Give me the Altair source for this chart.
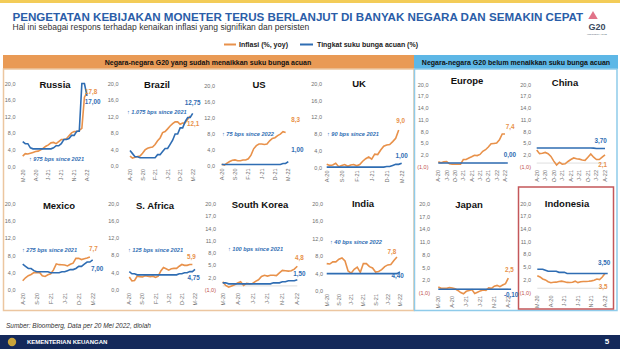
import altair as alt
import pandas as pd

# ---------------- data (months counted from Jan-2020 = 0) ----------------
countries = ["Russia", "Brazil", "US", "UK", "Europe", "China",
             "Mexico", "S. Africa", "South Korea", "India", "Japan", "Indonesia"]

russia_start_infl, russia_start_rate = 2, 2
russia_infl = [2.5, 3.1, 3.0, 3.2, 3.4, 3.6, 3.7, 4.0, 4.4, 4.9, 5.2, 5.7, 5.8, 5.5, 6.0, 6.5,
               6.5, 6.7, 7.4, 8.1, 8.4, 8.4, 8.7, 9.2, 16.7, 17.8]
russia_rate = [6.0, 5.5, 5.5, 4.5, 4.25, 4.25, 4.25, 4.25, 4.25, 4.25, 4.25, 4.25, 4.5, 5.0, 5.0,
               5.5, 6.5, 6.5, 6.75, 7.5, 7.5, 8.5, 8.5, 20.0, 20.0, 17.0]

brazil_start_infl, brazil_start_rate = 3, 3
brazil_infl = [2.4, 1.9, 2.1, 2.3, 2.4, 3.1, 3.9, 4.3, 4.5, 4.6, 5.2, 6.1, 6.8, 8.1, 8.35, 9.0,
               9.7, 10.25, 10.7, 10.7, 10.1, 10.4, 10.5, 11.3, 12.1]
brazil_rate = [3.75, 3.0, 2.25, 2.25, 2.0, 2.0, 2.0, 2.0, 2.0, 2.0, 2.0, 2.75, 2.75, 3.5, 4.25,
               4.25, 5.25, 6.25, 7.75, 7.75, 9.25, 9.25, 10.75, 11.75, 11.75, 12.75]

us_start_infl, us_start_rate = 3, 3
us_infl = [0.3, 0.1, 0.6, 1.0, 1.3, 1.4, 1.2, 1.2, 1.4, 1.4, 1.7, 2.6, 4.2, 5.0, 5.4, 5.4, 5.3,
           5.4, 6.2, 6.8, 7.0, 7.5, 7.9, 8.5, 8.3]
us_rate = [0.25] * 23 + [0.5, 0.5, 1.0]

uk_start_infl, uk_start_rate = 3, 3
uk_infl = [0.8, 0.5, 0.6, 1.0, 0.2, 0.5, 0.7, 0.3, 0.6, 0.7, 0.4, 0.7, 1.5, 2.1, 2.5, 2.0, 3.2,
           3.1, 4.2, 5.1, 5.4, 5.5, 6.2, 7.0, 9.0]
uk_rate = [0.1] * 20 + [0.25, 0.25, 0.5, 0.75, 0.75, 1.0]

europe_start_infl, europe_start_rate = 3, 3
europe_infl = [0.3, 0.1, 0.3, 0.4, -0.2, -0.3, -0.3, -0.3, -0.3, 0.9, 0.9, 1.3, 1.6, 2.0, 1.9,
               2.2, 3.0, 3.4, 4.1, 4.9, 5.0, 5.1, 5.9, 7.4, 7.4]
europe_rate = [0.0] * 26

china_start_infl, china_start_rate = 3, 3
china_infl = [3.3, 2.4, 2.5, 2.7, 2.4, 1.7, 0.5, -0.5, 0.2, -0.3, -0.2, 0.4, 0.9, 1.3, 1.1, 1.0,
              0.8, 0.7, 1.5, 2.3, 1.5, 0.9, 0.9, 1.5, 2.1]
china_rate = [3.85] * 20 + [3.8, 3.7, 3.7, 3.7, 3.7]

mexico_start_infl, mexico_start_rate = 3, 3
mexico_infl = [2.15, 2.84, 3.33, 3.62, 4.05, 4.01, 4.09, 3.33, 3.15, 3.54, 3.76, 4.67, 6.08, 5.89,
               5.88, 5.81, 5.59, 6.0, 6.24, 7.37, 7.36, 7.07, 7.28, 7.45, 7.68]
mexico_rate = [6.0, 5.5, 5.0, 5.0, 4.5, 4.25, 4.25, 4.25, 4.25, 4.25, 4.0, 4.0, 4.0, 4.0, 4.25,
               4.25, 4.5, 4.75, 4.75, 5.0, 5.5, 5.5, 6.0, 6.5, 6.5, 7.0]

safrica_start_infl, safrica_start_rate = 3, 3
safrica_infl = [3.0, 2.1, 2.2, 3.2, 3.1, 3.0, 3.3, 3.2, 3.1, 3.2, 2.9, 3.2, 4.4, 5.2, 4.9, 4.6,
                4.9, 5.0, 5.0, 5.5, 5.9, 5.7, 5.7, 5.9, 5.9]
safrica_rate = [4.25, 3.75, 3.75] + [3.5] * 16 + [3.75, 3.75, 4.0, 4.0, 4.25, 4.25, 4.75]

korea_start_infl, korea_start_rate = 2, 2
korea_infl = [1.0, 0.1, -0.3, 0.0, 0.3, 0.7, 1.0, 0.1, 0.6, 0.5, 0.6, 1.1, 1.5, 2.3, 2.6, 2.4,
              2.6, 2.6, 2.5, 3.2, 3.8, 3.7, 3.6, 3.7, 4.1, 4.8]
korea_rate = [0.75, 0.75] + [0.5] * 15 + [0.75, 0.75, 0.75, 1.0, 1.0, 1.25, 1.25, 1.25, 1.5]

india_start_infl, india_start_rate = 4, 4
india_infl = [6.3, 6.2, 6.7, 6.7, 7.3, 7.6, 6.9, 4.6, 4.1, 5.0, 5.5, 4.3, 6.3, 6.3, 5.6, 5.3,
              4.35, 4.5, 4.9, 5.6, 6.0, 6.1, 7.0, 7.8]
india_rate = [4.0] * 24 + [4.4]

japan_start_infl, japan_start_rate = 2, 2
japan_infl = [0.4, 0.1, 0.1, 0.1, 0.3, 0.2, 0.0, -0.4, -0.9, -1.2, -0.6, -0.4, -0.2, -1.1, -0.8,
              -0.5, -0.3, -0.4, 0.2, 0.1, 0.6, 0.8, 0.5, 0.9, 1.2, 2.5]
japan_rate = [-0.1] * 27

indonesia_start_infl, indonesia_start_rate = 2, 2
indonesia_infl = [2.96, 2.67, 2.19, 1.96, 1.54, 1.32, 1.42, 1.44, 1.59, 1.68, 1.55, 1.38, 1.37,
                  1.42, 1.68, 1.33, 1.52, 1.59, 1.60, 1.66, 1.75, 1.87, 2.18, 2.06, 2.64, 3.47]
indonesia_rate = [4.5, 4.5, 4.5, 4.25, 4.0, 4.0, 4.0, 4.0, 3.75, 3.75, 3.75] + [3.5] * 16

# axis tick labels
ticks_a = [0, 4, 8, 12, 16, 20]
ticks_a_text = ["0,0", "4,0", "8,0", "12,0", "16,0", "20,0"]
ticks_b = [-1, 2, 5, 8, 11, 14, 17, 20]
ticks_b_text = ["(1,0)", "2,0", "5,0", "8,0", "11,0", "14,0", "17,0", "20,0"]

xl5a_m = [2, 7, 12, 17, 22, 27]
xl5a_t = ["M-20", "A-20", "J-21", "J-21", "N-21", "A-22"]
xl5b_m = [3, 8, 13, 18, 23, 28]
xl5b_t = ["A-20", "S-20", "F-21", "J-21", "D-21", "M-22"]
xl4_m = [4, 8, 12, 16, 20, 24, 28]
xl4_t = ["M-20", "S-20", "J-21", "M-21", "S-21", "J-22", "M-22"]
xl3_m = [3, 6, 9, 12, 15, 18, 21, 24, 27]
xl3_t = ["A-20", "J-20", "O-20", "J-21", "A-21", "J-21", "O-21", "J-22", "A-22"]

annotations = {
    "Russia": "↑ 975 bps since 2021", "Brazil": "↑ 1.075 bps since 2021",
    "US": "↑ 75 bps since 2022", "UK": "↑ 90 bps since 2021",
    "Mexico": "↑ 275 bps since 2021", "S. Africa": "↑ 125 bps since 2021",
    "South Korea": "↑ 100 bps since 2021", "India": "↑ 40 bps since 2022",
}

SERIES = {
    "Russia": (russia_start_infl, russia_infl, russia_start_rate, russia_rate, "a", (xl5a_m, xl5a_t)),
    "Brazil": (brazil_start_infl, brazil_infl, brazil_start_rate, brazil_rate, "a", (xl5b_m, xl5b_t)),
    "US": (us_start_infl, us_infl, us_start_rate, us_rate, "a", (xl5b_m, xl5b_t)),
    "UK": (uk_start_infl, uk_infl, uk_start_rate, uk_rate, "a", (xl5b_m, xl5b_t)),
    "Europe": (europe_start_infl, europe_infl, europe_start_rate, europe_rate, "b", (xl3_m, xl3_t)),
    "China": (china_start_infl, china_infl, china_start_rate, china_rate, "b", (xl3_m, xl3_t)),
    "Mexico": (mexico_start_infl, mexico_infl, mexico_start_rate, mexico_rate, "a", (xl5b_m, xl5b_t)),
    "S. Africa": (safrica_start_infl, safrica_infl, safrica_start_rate, safrica_rate, "a", (xl5b_m, xl5b_t)),
    "South Korea": (korea_start_infl, korea_infl, korea_start_rate, korea_rate, "b", (xl5a_m, xl5a_t)),
    "India": (india_start_infl, india_infl, india_start_rate, india_rate, "a", (xl4_m, xl4_t)),
    "Japan": (japan_start_infl, japan_infl, japan_start_rate, japan_rate, "b", (xl5a_m, xl5a_t)),
    "Indonesia": (indonesia_start_infl, indonesia_infl, indonesia_start_rate, indonesia_rate, "b", (xl5a_m, xl5a_t)),
}

# ---------------- layout / style ----------------
ORANGE = "#E8914A"
BLUE = "#2F6DB3"
GRAY = "#6E6E6E"
RED = "#C0504D"
FONT = "Liberation Sans"

GEO = {
    "Russia": dict(x0=22.7, x1=87.0, y0=166.5, y1=83.5, yl=15.5, tx=55, ty=85, ax=29, ay=159),
    "Brazil": dict(x0=130.0, x1=192.7, y0=166.0, y1=83.5, yl=118.5, tx=157, ty=85, ax=127, ay=112),
    "US": dict(x0=221.7, x1=288.3, y0=165.5, y1=86.0, yl=215, tx=259, ty=85, ax=222, ay=134),
    "UK": dict(x0=326.7, x1=401.7, y0=167.5, y1=84.0, yl=322, tx=359, ty=84, ax=327, ay=134),
    "Europe": dict(x0=438.3, x1=505.0, y0=167.0, y1=84.5, yl=428.5, tx=467, ty=81),
    "China": dict(x0=536.7, x1=605.0, y0=167.0, y1=84.5, yl=531, tx=565, ty=83),
    "Mexico": dict(x0=22.7, x1=92.7, y0=290.0, y1=204.0, yl=15.5, tx=59, ty=206, ax=22, ay=250),
    "S. Africa": dict(x0=129.3, x1=195.0, y0=290.0, y1=203.5, yl=119, tx=155, ty=206, ax=128, ay=250),
    "South Korea": dict(x0=222.7, x1=297.3, y0=290.0, y1=204.0, yl=216, tx=260, ty=205, ax=228, ay=249),
    "India": dict(x0=326.7, x1=400.0, y0=291.0, y1=204.0, yl=323, tx=363, ty=204, ax=330, ay=242),
    "Japan": dict(x0=438.3, x1=508.3, y0=293.0, y1=204.0, yl=430, tx=469, ty=205),
    "Indonesia": dict(x0=537.3, x1=605.0, y0=292.5, y1=203.5, yl=531, tx=567, ty=204),
}
# (dx, dy) offsets of end-value labels: inflation, rate
ENDOFF = {
    "Russia": ((4, -1), (5.5, 6)), "Brazil": ((3, 7.5), (0, -10)),
    "US": ((10, -12.5), (9, -12)), "UK": ((2, -9), (0, -7.5)),
    "Europe": ((5, -7), (2, -8)), "China": ((-2.5, 10), (-4.5, -8)),
    "Mexico": ((3.5, -7.5), (4.5, 9.5)), "S. Africa": ((-1, -7), (-1.5, 9)),
    "South Korea": ((2, -8), (2, -6)), "India": ((-5, -5), (-2.5, 4)),
    "Japan": ((1, -8.5), (0, 5.5)), "Indonesia": ((-2, 13), (-3.5, -10)),
}


def fmt(v, d):
    return f"{v:.{d}f}".replace(".", ",")


def panel(name):
    g = GEO[name]
    s_i, infl, s_r, rate, grp, (xm, xt) = SERIES[name]
    tv, tt = (ticks_a, ticks_a_text) if grp == "a" else (ticks_b, ticks_b_text)
    xs = alt.Scale(domain=[xm[0], xm[-1]], range=[g["x0"], g["x1"]], nice=False, zero=False)
    ys = alt.Scale(domain=[tv[0], tv[-1]], range=[g["y0"], g["y1"]], nice=False, zero=False)

    def X():
        return alt.X("m:Q", scale=xs, axis=None)

    def Y():
        return alt.Y("v:Q", scale=ys, axis=None)

    df_i = pd.DataFrame({"m": list(range(s_i, s_i + len(infl))), "v": infl})
    df_r = pd.DataFrame({"m": list(range(s_r, s_r + len(rate))), "v": rate})
    layers = []
    if grp == "b":
        layers.append(alt.Chart(pd.DataFrame({"v": [0]})).mark_rule(color="#D6D6D6", strokeWidth=0.8)
                      .encode(y=Y(), x=alt.value(g["x0"]), x2=alt.value(g["x1"])))
    layers.append(alt.Chart(df_i).mark_line(color=ORANGE, strokeWidth=1.6).encode(x=X(), y=Y()))
    layers.append(alt.Chart(df_r).mark_line(color=BLUE, strokeWidth=1.6).encode(x=X(), y=Y()))
    # y tick labels
    layers.append(alt.Chart(pd.DataFrame({"v": tv, "t": tt})).mark_text(
        align="right", baseline="middle", fontSize=5.5, font=FONT).encode(
        y=Y(), x=alt.value(g["yl"]), text="t:N",
        color=alt.condition(alt.datum.v < 0, alt.value(RED), alt.value(GRAY))))
    # x tick labels
    layers.append(alt.Chart(pd.DataFrame({"m": xm, "t": xt})).mark_text(
        align="right", baseline="middle", angle=270, fontSize=5.5, font=FONT, color=GRAY).encode(
        x=X(), y=alt.value(g["y0"] + 3), text="t:N"))
    # title
    layers.append(alt.Chart(pd.DataFrame({"t": [name]})).mark_text(
        fontSize=9.5, fontWeight="bold", font=FONT, color="#111111", baseline="middle").encode(
        x=alt.value(g["tx"]), y=alt.value(g["ty"]), text="t:N"))
    # end labels
    (dxi, dyi), (dxr, dyr) = ENDOFF[name]
    li = pd.DataFrame({"m": [df_i["m"].iloc[-1]], "v": [infl[-1]], "t": [fmt(infl[-1], 1)]})
    lr = pd.DataFrame({"m": [df_r["m"].iloc[-1]], "v": [rate[-1]], "t": [fmt(rate[-1], 2)]})
    layers.append(alt.Chart(li).mark_text(fontSize=6.3, fontWeight="bold", font=FONT, color=ORANGE,
                                          dx=dxi, dy=dyi).encode(x=X(), y=Y(), text="t:N"))
    layers.append(alt.Chart(lr).mark_text(fontSize=6.3, fontWeight="bold", font=FONT, color=BLUE,
                                          dx=dxr, dy=dyr).encode(x=X(), y=Y(), text="t:N"))
    if name in annotations:
        layers.append(alt.Chart(pd.DataFrame({"t": [annotations[name]]})).mark_text(
            align="left", baseline="middle", fontSize=5.6, fontWeight="bold", fontStyle="italic",
            font=FONT, color=BLUE).encode(x=alt.value(g["ax"]), y=alt.value(g["ay"]), text="t:N"))
    return alt.layer(*layers)


one = pd.DataFrame({"a": [0]})


def rect(x, x2, y, y2, **kw):
    return alt.Chart(one).mark_rect(**kw).encode(
        x=alt.value(x), x2=alt.value(x2), y=alt.value(y), y2=alt.value(y2))


def text(s, x, y, **kw):
    kw.setdefault("font", FONT)
    return alt.Chart(one).mark_text(text=s, **kw).encode(x=alt.value(x), y=alt.value(y))


def hline(x, x2, y, color, w):
    return alt.Chart(one).mark_rule(color=color, strokeWidth=w).encode(
        x=alt.value(x), x2=alt.value(x2), y=alt.value(y))


deco = [
    rect(0, 620, 0, 3, color="#F3CC58"),
    text("PENGETATAN KEBIJAKAN MONETER TERUS BERLANJUT DI BANYAK NEGARA DAN SEMAKIN CEPAT",
         12.5, 21, align="left", baseline="alphabetic", fontSize=11.6, fontWeight="bold", color="#2A5DA8"),
    text("Hal ini sebagai respons terhadap kenaikan inflasi yang signifikan dan persisten",
         12.5, 30, align="left", baseline="alphabetic", fontSize=8.5, color="#333333"),
    alt.Chart(one).mark_point(shape="triangle-up", filled=True, color="#D9506A", size=90, opacity=0.8)
    .encode(x=alt.value(593), y=alt.value(15)),
    text("G20", 597, 30, align="center", baseline="alphabetic", fontSize=9, fontWeight="bold", color="#3B4A5E"),
    text("INDONESIA 2022", 597, 35, align="center", baseline="alphabetic", fontSize=2.5, color="#6B7685"),
    hline(224, 236, 44.5, ORANGE, 2),
    text("Inflasi (%, yoy)", 239, 44.5, align="left", baseline="middle", fontSize=7, fontWeight="bold", color="#222222"),
    hline(300, 313, 44.5, BLUE, 2),
    text("Tingkat suku bunga acuan (%)", 317, 44.5, align="left", baseline="middle", fontSize=7, fontWeight="bold", color="#222222"),
    rect(3, 414, 55, 69, color="#E99A55"),
    rect(414, 618, 55, 69, color="#5DB7E6"),
    text("Negara-negara G20 yang sudah menaikkan suku bunga acuan", 208, 62.5, align="center",
         baseline="middle", fontSize=7, fontWeight="bold", color="#111111"),
    text("Negara-negara G20 belum menaikkan suku bunga acuan", 516, 62.5, align="center",
         baseline="middle", fontSize=7, fontWeight="bold", color="#111111"),
    rect(3.5, 414, 69, 310.5, fillOpacity=0, stroke="#ECC6A0", strokeWidth=1.5),
    rect(414.5, 617, 69, 310.5, fillOpacity=0, stroke="#8ECBEA", strokeWidth=1.5),
    rect(518.5, 613.5, 187, 309, fillOpacity=0, stroke="#C4575A", strokeWidth=1.5),
    text("Sumber: Bloomberg, Data per 20 Mei 2022, diolah", 6, 326, align="left", baseline="middle",
         fontSize=6.5, fontStyle="italic", color="#333333"),
    rect(0, 620, 335, 349, color="#14295A"),
    alt.Chart(one).mark_point(shape="circle", filled=True, color="#C9A43A", size=70, opacity=1)
    .encode(x=alt.value(12), y=alt.value(342)),
    text("KEMENTERIAN KEUANGAN", 27, 342.3, align="left", baseline="middle", fontSize=6,
         fontWeight="bold", color="white"),
    text("5", 607, 342.3, align="center", baseline="middle", fontSize=8, fontWeight="bold", color="white"),
]

chart = alt.layer(*deco, *[panel(c) for c in countries]).resolve_scale(
    x="independent", y="independent"
).properties(
    width=620, height=349, autosize=alt.AutoSizeParams(type="none"), padding=0, background="white"
).configure_view(stroke=None)

chart.save("out.html", embed_options={"renderer": "svg", "actions": False})
